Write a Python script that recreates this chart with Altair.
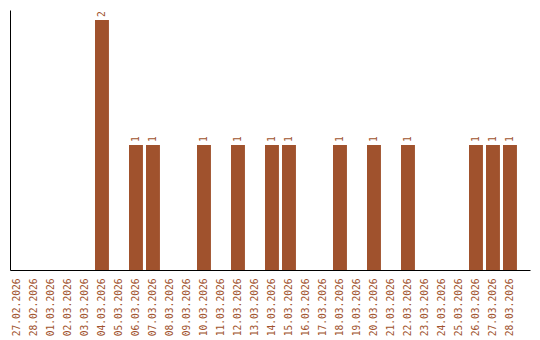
import altair as alt
import pandas as pd

dates = ["27.02.2026", "28.02.2026", "01.03.2026", "02.03.2026", "03.03.2026",
         "04.03.2026", "05.03.2026", "06.03.2026", "07.03.2026", "08.03.2026",
         "09.03.2026", "10.03.2026", "11.03.2026", "12.03.2026", "13.03.2026",
         "14.03.2026", "15.03.2026", "16.03.2026", "17.03.2026", "18.03.2026",
         "19.03.2026", "20.03.2026", "21.03.2026", "22.03.2026", "23.03.2026",
         "24.03.2026", "25.03.2026", "26.03.2026", "27.03.2026", "28.03.2026"]
counts = [0, 0, 0, 0, 0, 2, 0, 1, 1, 0,
          0, 1, 0, 1, 0, 1, 1, 0, 0, 1,
          0, 1, 0, 1, 0, 0, 0, 1, 1, 1]

df = pd.DataFrame({"date": dates, "count": counts})
df["label"] = df["count"].apply(lambda v: str(v) if v > 0 else "")

COLOR = "#a0522d"
FONT = "DejaVu Sans Mono"

x = alt.X("date:N", sort=dates, title=None,
          scale=alt.Scale(paddingInner=0.18, paddingOuter=0.384, align=0),
          axis=alt.Axis(labelAngle=270, labelColor=COLOR, labelFont=FONT,
                        labelFontSize=9.6, ticks=False, labelPadding=8,
                        domainColor="black", domainWidth=1, grid=False))
y = alt.Y("count:Q", title=None,
          scale=alt.Scale(domain=[0, 2.08], nice=False),
          axis=alt.Axis(labels=False, ticks=False, grid=False,
                        domainColor="black", domainWidth=1))

bars = alt.Chart(df).mark_bar(color=COLOR).encode(x=x, y=y)
texts = alt.Chart(df).mark_text(angle=270, align="left", baseline="middle",
                                dx=3, color=COLOR, font=FONT, fontSize=9.6).encode(
    x=alt.X("date:N", sort=dates), y="count:Q", text="label:N")

chart = (bars + texts).properties(
    width=520, height=260,
    padding={"left": 10, "top": 10, "right": 10, "bottom": 70},
    autosize=alt.AutoSizeParams(type="none"),
    background="white",
).configure_view(stroke=None)

chart.save("out.html", embed_options={"renderer": "svg", "actions": False})
